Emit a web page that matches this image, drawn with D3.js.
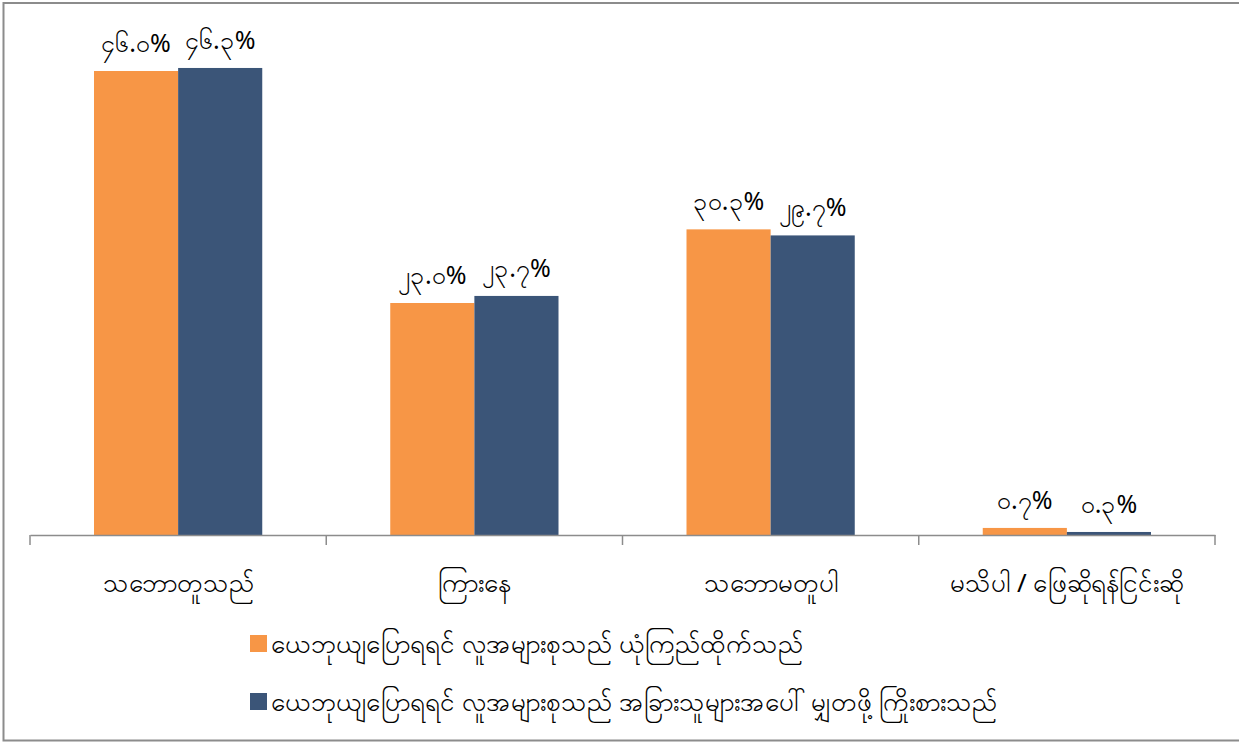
<!DOCTYPE html>
<html>
<head>
<meta charset="utf-8">
<script src="https://cdn.jsdelivr.net/npm/d3@7"></script>
<style>
  body { margin: 0; background: #fff; }
  text { font-family: "Noto Sans", "DejaVu Sans", sans-serif; fill: #000; }
</style>
</head>
<body>
<svg id="chart" width="1239" height="742"></svg>
<script>
// 分类
let categories = ['သဘောတူသည်', 'ကြားနေ', 'သဘောမတူပါ', 'မသိပါ / ဖြေဆိုရန်ငြင်းဆို']
// 两个系列
let seriesNames = [
  'ယေဘုယျပြောရရင် လူအများစုသည် ယုံကြည်ထိုက်သည်',
  'ယေဘုယျပြောရရင် လူအများစုသည် အခြားသူများအပေါ်  မျှတဖို့ ကြိုးစားသည်'
]
let trustValues = [46.0, 23.0, 30.3, 0.7]
let fairValues = [46.3, 23.7, 29.7, 0.3]
let trustLabels = ['၄၆.၀%', '၂၃.၀%', '၃၀.၃%', '၀.၇%']
let fairLabels = ['၄၆.၃%', '၂၃.၇%', '၂၉.၇%', '၀.၃%']
let colors = ['#F79646', '#3B5578']

let w = 1239, h = 742
let svg = d3.select('#chart')

// 外框
svg.append('path')
  .attr('d', `M${w},3 H3.5 V740.5 H${w}`)
  .attr('fill', 'none')
  .attr('stroke', '#8c8c8c')
  .attr('stroke-width', 2)

let x0 = d3.scaleBand()
  .domain(d3.range(categories.length))
  .range([30, 1215])
// 组宽 168, 两边各留 ~64
let x1 = d3.scaleBand()
  .domain([0, 1])
  .range([64, x0.bandwidth() - 64])

let y = d3.scaleLinear()
  .domain([0, 46])
  .range([535, 71])

let data = categories.map((c, i) => ({
  i: i,
  vals: [trustValues[i], fairValues[i]],
  labels: [trustLabels[i], fairLabels[i]]
}))

let groups = svg.selectAll('g.cat')
  .data(data)
  .enter()
  .append('g')
  .attr('class', 'cat')
  .attr('transform', d => `translate(${x0(d.i)},0)`)

groups.selectAll('rect')
  .data(d => d.vals.map((v, s) => ({ v: v, s: s, label: d.labels[s] })))
  .enter()
  .append('rect')
  .attr('x', d => x1(d.s))
  .attr('y', d => y(d.v))
  .attr('width', x1.bandwidth())
  .attr('height', d => y(0) - y(d.v))
  .attr('fill', d => colors[d.s])

groups.selectAll('text.val')
  .data(d => d.vals.map((v, s) => ({ v: v, s: s, label: d.labels[s] })))
  .enter()
  .append('text')
  .attr('class', 'val')
  .attr('x', d => x1(d.s) + x1.bandwidth() / 2)
  .attr('y', d => y(d.v) - 19)
  .attr('text-anchor', 'middle')
  .attr('font-size', '25px')
  .text(d => d.label)

// 坐标轴
let xAxis = d3.axisBottom(x0)
  .tickSize(0)
  .tickFormat(i => categories[i])
let gx = svg.append('g')
  .attr('transform', 'translate(0,535)')
  .call(xAxis)
gx.select('.domain').attr('stroke', '#8c8c8c').attr('stroke-width', 1.5)
gx.selectAll('.tick text')
  .attr('dy', 0)
  .attr('y', 57)
  .attr('font-size', '26px')
  .attr('font-family', '"Noto Sans", "DejaVu Sans", sans-serif')
  .attr('fill', '#000')

// 分隔刻度
svg.selectAll('line.sep')
  .data(d3.range(categories.length + 1))
  .enter()
  .append('line')
  .attr('class', 'sep')
  .attr('x1', i => i < categories.length ? x0(i) : x0(categories.length - 1) + x0.bandwidth())
  .attr('x2', i => i < categories.length ? x0(i) : x0(categories.length - 1) + x0.bandwidth())
  .attr('y1', 535)
  .attr('y2', 545)
  .attr('stroke', '#8c8c8c')
  .attr('stroke-width', 1.5)

// 图例
let legend = svg.selectAll('g.legend')
  .data(seriesNames)
  .enter()
  .append('g')
  .attr('class', 'legend')
  .attr('transform', (d, i) => `translate(250,${635 + i * 58})`)
legend.append('rect')
  .attr('width', 17)
  .attr('height', 17)
  .attr('fill', (d, i) => colors[i])
legend.append('text')
  .attr('x', 21)
  .attr('y', 18)
  .attr('font-size', '26px')
  .text(d => d)
</script>
</body>
</html>
